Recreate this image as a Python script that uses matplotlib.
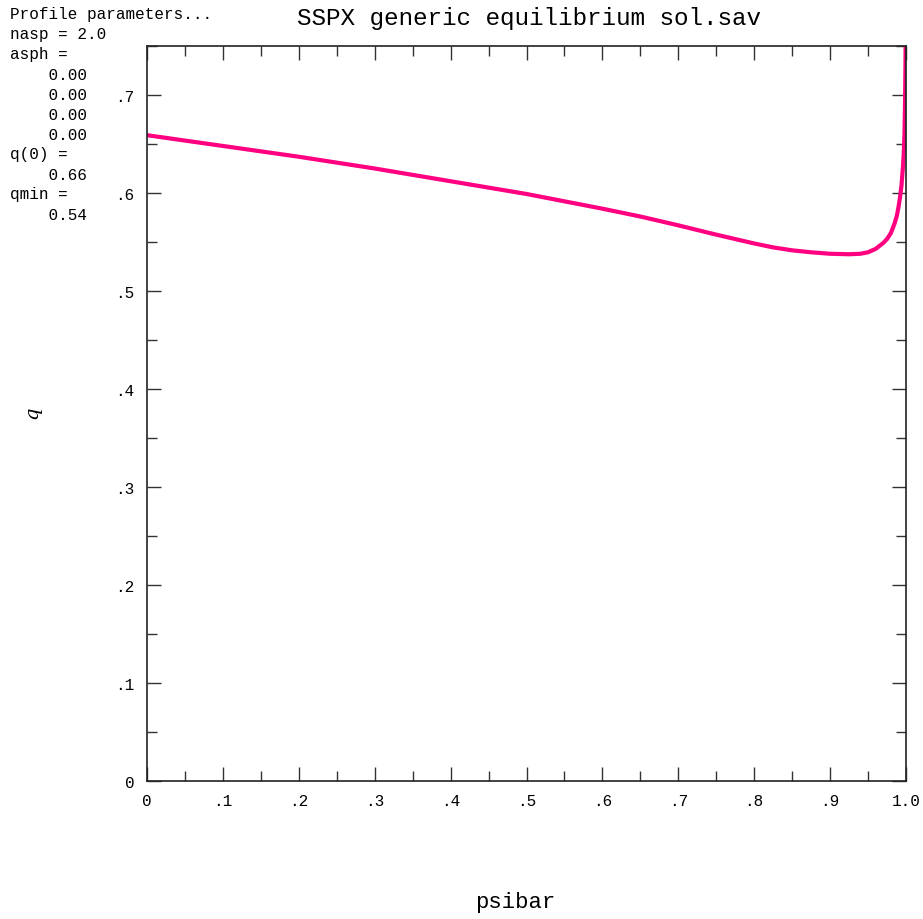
import matplotlib
matplotlib.use("Agg")
import matplotlib.pyplot as plt
from matplotlib.ticker import MultipleLocator, FixedLocator

# q profile
psibar = [0.0, 0.1, 0.2, 0.3, 0.4, 0.5, 0.55, 0.6, 0.65, 0.7, 0.75, 0.8,
          0.825, 0.85, 0.875, 0.9, 0.925, 0.94, 0.95, 0.96, 0.97, 0.975,
          0.98, 0.985, 0.988, 0.99, 0.992, 0.994, 0.996, 0.997, 0.998,
          0.9987, 0.9993, 0.9997, 1.0]
q = [0.659, 0.648, 0.637, 0.625, 0.612, 0.599, 0.5915, 0.584, 0.576,
     0.567, 0.5575, 0.5485, 0.5445, 0.5415, 0.5395, 0.538, 0.5375, 0.538,
     0.5395, 0.543, 0.549, 0.553, 0.559, 0.569, 0.577, 0.585, 0.595,
     0.607, 0.627, 0.640, 0.660, 0.690, 0.730, 0.770, 0.800]

x_ticks = [0.0, 0.1, 0.2, 0.3, 0.4, 0.5, 0.6, 0.7, 0.8, 0.9, 1.0]
x_labels = ["0", ".1", ".2", ".3", ".4", ".5", ".6", ".7", ".8", ".9", "1.0"]
y_ticks = [0.0, 0.1, 0.2, 0.3, 0.4, 0.5, 0.6, 0.7]
y_labels = ["0", ".1", ".2", ".3", ".4", ".5", ".6", ".7"]

info_lines = ["Profile parameters...", "nasp = 2.0", "asph =",
              "    0.00", "    0.00", "    0.00", "    0.00",
              "q(0) =", "    0.66", "qmin =", "    0.54"]

mono = "Liberation Mono"
W, H = 923, 920

fig = plt.figure(figsize=(W / 100, H / 100), dpi=100)
ax = fig.add_axes([147 / W, 1 - 782 / H, (906 - 147) / W, (782 - 47) / H])

ax.plot(psibar, q, color="#ff0080", lw=3, solid_capstyle="butt")

ax.set_xlim(0, 1.0)
ax.set_ylim(0, 0.75)
ax.xaxis.set_major_locator(FixedLocator(x_ticks))
ax.yaxis.set_major_locator(FixedLocator(y_ticks))
ax.set_xticklabels(x_labels)
ax.set_yticklabels(y_labels)
ax.xaxis.set_minor_locator(MultipleLocator(0.05))
ax.yaxis.set_minor_locator(MultipleLocator(0.05))
ax.tick_params(which="both", direction="in", top=True, right=True,
               color="#333333", width=1)
ax.tick_params(which="major", length=10, pad=9, labelsize=11.5)
ax.tick_params(which="minor", length=7)
for lab in ax.get_xticklabels() + ax.get_yticklabels():
    lab.set_family(mono)
for sp in ax.spines.values():
    sp.set_linewidth(1.2)
    sp.set_color("#222222")

fig.text(529 / W, 1 - 18 / H, "SSPX generic equilibrium sol.sav",
         ha="center", va="center", family=mono, fontsize=17.5)
fig.text(515 / W, 1 - 903 / H, "psibar", ha="center", va="center",
         family=mono, fontsize=16)
fig.text(32 / W, 1 - 413 / H, "q", ha="center", va="center",
         family="DejaVu Serif", style="italic", fontsize=14, rotation=90)

for i, line in enumerate(info_lines):
    fig.text(10 / W, 1 - (15 + i * 20) / H, line, ha="left", va="center",
             family=mono, fontsize=11.5)

fig.savefig("out.png", dpi=100)
